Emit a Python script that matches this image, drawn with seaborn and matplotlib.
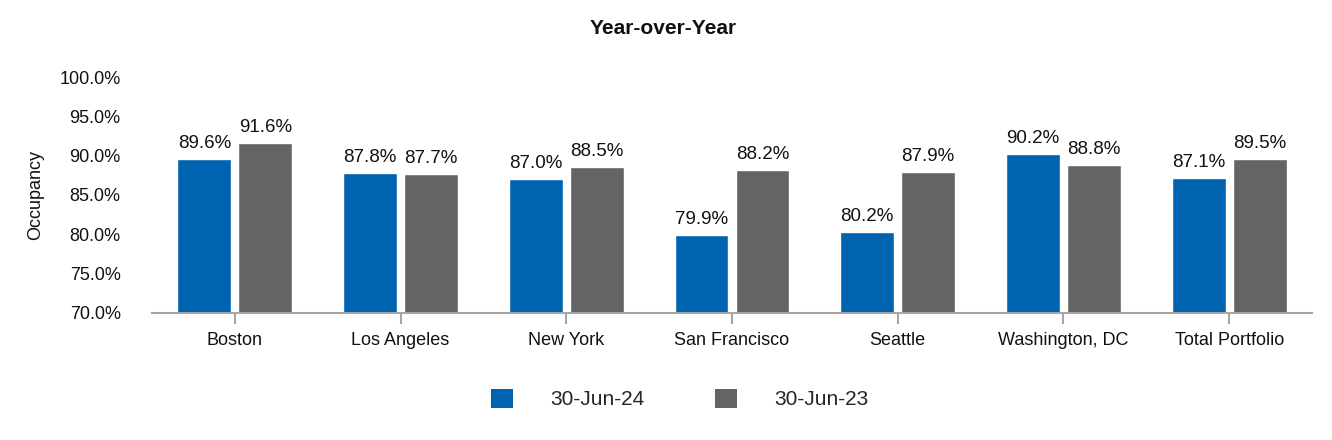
import matplotlib
matplotlib.use("Agg")
import matplotlib.pyplot as plt
import seaborn as sns
import pandas as pd
from matplotlib.patches import Patch
from matplotlib.ticker import FuncFormatter

categories = ["Boston", "Los Angeles", "New York", "San Francisco", "Seattle", "Washington, DC", "Total Portfolio"]
jun24 = [89.6, 87.8, 87.0, 79.9, 80.2, 90.2, 87.1]
jun23 = [91.6, 87.7, 88.5, 88.2, 87.9, 88.8, 89.5]
series_names = ["30-Jun-24", "30-Jun-23"]
colors = ["#0063AF", "#646464"]

df = pd.DataFrame({
    "City": categories * 2,
    "Occupancy": jun24 + jun23,
    "Period": [series_names[0]] * len(categories) + [series_names[1]] * len(categories),
})

sns.set_theme(style="white")
plt.rcParams["font.family"] = ["Liberation Sans", "DejaVu Sans"]

fig = plt.figure(figsize=(13.32, 4.4), dpi=100)
ax = fig.add_axes([152 / 1332, 1 - 312.5 / 440, 1160 / 1332, (312.5 - 77) / 440])

sns.barplot(data=df, x="City", y="Occupancy", hue="Period", palette=colors,
            order=categories, hue_order=series_names, width=0.736, gap=0.115,
            saturation=1, ax=ax, legend=False)

ax.set_ylim(70, 100)
ax.set_xlim(-0.5, len(categories) - 0.5)
ax.set_yticks([70, 75, 80, 85, 90, 95, 100])
ax.yaxis.set_major_formatter(FuncFormatter(lambda v, p: f"{v:.1f}%"))

for cont in ax.containers:
    ax.bar_label(cont, labels=[f"{b.get_height():.1f}%" for b in cont], padding=5, fontsize=13.5, color="#111111")

for s in ["top", "right", "left"]:
    ax.spines[s].set_visible(False)
ax.spines["bottom"].set_color("#A6A6A6")
ax.spines["bottom"].set_linewidth(1.5)

ax.tick_params(axis="x", which="both", bottom=True, length=8, width=1.5, color="#A6A6A6",
               labelsize=13, pad=6, labelcolor="#111111")
ax.tick_params(axis="y", left=False, labelsize=13, pad=16.5, labelcolor="#111111")
ax.set_xlabel("")
ax.set_ylabel("Occupancy", fontsize=13, color="#111111", labelpad=10)
ax.yaxis.set_label_coords(-108 / 1160, 0.5)
ax.grid(False)

fig.text(663 / 1332, 1 - 28 / 440, "Year-over-Year", ha="center", va="center",
         fontsize=15, fontweight="bold", color="#111111")

handles = [Patch(facecolor=c, edgecolor="none") for c in colors]
fig.legend(handles, series_names, loc="center", bbox_to_anchor=(0.5105, 1 - 399 / 440), ncol=2,
           frameon=False, fontsize=15, handlelength=1.05, handleheight=1.05,
           handletextpad=1.78, columnspacing=3.4)

fig.savefig("out.png", dpi=100)
